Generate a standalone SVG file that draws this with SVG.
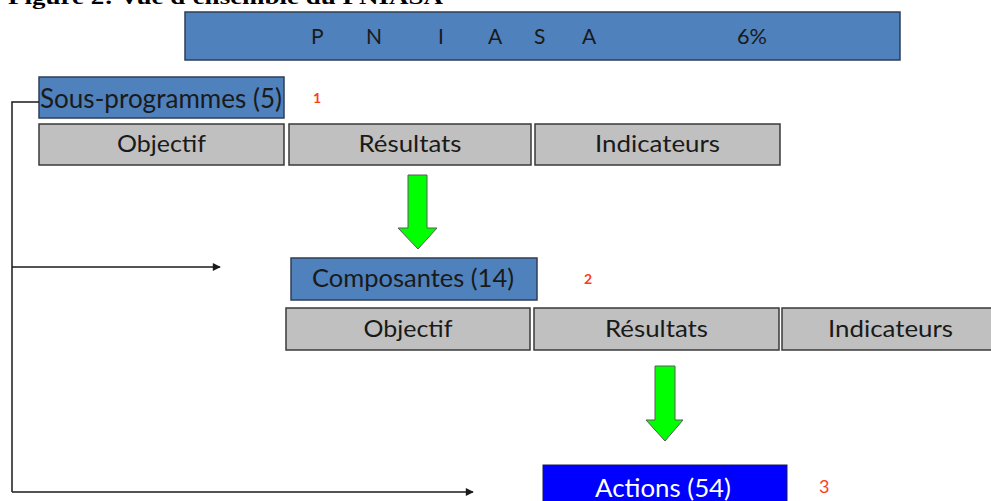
<svg xmlns="http://www.w3.org/2000/svg" width="991" height="501" viewBox="0 0 991 501">
  <defs>
    <style>
      .blue { fill: #4F81BD; stroke: #2F3F55; stroke-width: 1.5; }
      .grey { fill: #C0C0C0; stroke: #3A3A3A; stroke-width: 1.5; }
      .act { fill: #0000FF; stroke: #1A1A60; stroke-width: 1; }
      .lbl { font-family: Lato, "Open Sans", sans-serif; fill: #1A1A1A; }
      .cell { font-size: 23px; text-anchor: middle; }
      .num { font-family: Lato, "Open Sans", sans-serif; fill: #FF3B1A; font-weight: bold; }
      .down { fill: #00FF00; stroke: #5A5A5A; stroke-width: 1; }
      .link { fill: none; stroke: #1A1A1A; stroke-width: 1.5; }
    </style>
    <marker id="tip" viewBox="0 0 10 10" refX="9" refY="5" markerWidth="10" markerHeight="8" markerUnits="userSpaceOnUse" orient="auto">
      <path d="M0,0 L10,5 L0,10 z" fill="#1A1A1A"/>
    </marker>
  </defs>

  <rect width="991" height="501" fill="#FFFFFF"/>

  <!-- caption, partly above the top edge -->
  <text x="8" y="4" font-family="Liberation Serif, serif" font-weight="bold" font-size="22" textLength="435" lengthAdjust="spacingAndGlyphs" fill="#000">Figure 2: Vue d'ensemble du PNIASA</text>

  <!-- programme banner -->
  <g id="pniasa">
    <rect class="blue" x="185" y="12" width="715" height="48"/>
    <g class="lbl" font-size="21">
      <text x="311" y="44">P</text>
      <text x="366" y="44">N</text>
      <text x="438" y="44">I</text>
      <text x="488" y="44">A</text>
      <text x="534" y="44">S</text>
      <text x="582" y="44">A</text>
      <text x="737" y="44" textLength="30" lengthAdjust="spacingAndGlyphs">6%</text>
    </g>
  </g>

  <!-- level 1 -->
  <g id="sous-programmes">
    <rect class="blue" x="39" y="77" width="245" height="41"/>
    <text class="lbl" x="40" y="108" font-size="26" textLength="242" lengthAdjust="spacingAndGlyphs">Sous-programmes (5)</text>
    <text class="num" x="313" y="103" font-size="14">1</text>
  </g>
  <g id="sp-objectif">
    <rect class="grey" x="39" y="124" width="245" height="41"/>
    <text class="lbl cell" x="161.5" y="152" textLength="89" lengthAdjust="spacingAndGlyphs">Objectif</text>
  </g>
  <g id="sp-resultats">
    <rect class="grey" x="289" y="124" width="242" height="41"/>
    <text class="lbl cell" x="410" y="152" textLength="103" lengthAdjust="spacingAndGlyphs">Résultats</text>
  </g>
  <g id="sp-indicateurs">
    <rect class="grey" x="535" y="124" width="245" height="41"/>
    <text class="lbl cell" x="657.5" y="152" textLength="125" lengthAdjust="spacingAndGlyphs">Indicateurs</text>
  </g>

  <!-- level 2 -->
  <g id="composantes">
    <rect class="blue" x="291" y="258" width="246" height="42"/>
    <text class="lbl" x="413" y="287" font-size="25" text-anchor="middle" textLength="202" lengthAdjust="spacingAndGlyphs">Composantes (14)</text>
    <text class="num" x="584" y="284" font-size="14">2</text>
  </g>
  <g id="c-objectif">
    <rect class="grey" x="286" y="308" width="244" height="42"/>
    <text class="lbl cell" x="408" y="337" textLength="89" lengthAdjust="spacingAndGlyphs">Objectif</text>
  </g>
  <g id="c-resultats">
    <rect class="grey" x="534" y="308" width="245" height="42"/>
    <text class="lbl cell" x="656.5" y="337" textLength="103" lengthAdjust="spacingAndGlyphs">Résultats</text>
  </g>
  <g id="c-indicateurs">
    <rect class="grey" x="782" y="308" width="212" height="42"/>
    <text class="lbl cell" x="890.5" y="337" textLength="125" lengthAdjust="spacingAndGlyphs">Indicateurs</text>
  </g>

  <!-- level 3 -->
  <g id="actions">
    <rect class="act" x="543" y="465" width="244" height="40"/>
    <text x="663" y="497" font-family="Lato, 'Open Sans', sans-serif" font-size="25" fill="#FFFFFF" text-anchor="middle" textLength="136" lengthAdjust="spacingAndGlyphs">Actions (54)</text>
    <text x="819" y="493" font-family="Lato, 'Open Sans', sans-serif" font-size="18" fill="#FF3B1A">3</text>
  </g>

  <!-- connectors -->
  <g id="connectors">
    <polygon class="down" points="408,175 427,175 427,228 437,228 418,249 398,228 408,228"/>
    <polygon class="down" points="655,366 675,366 675,420 683,420 665,441 646,420 655,420"/>
    <path class="link" d="M39,102 H12 V492"/>
    <path class="link" d="M12,267 H220" marker-end="url(#tip)"/>
    <path class="link" d="M12,492 H473" marker-end="url(#tip)"/>
  </g>
</svg>
